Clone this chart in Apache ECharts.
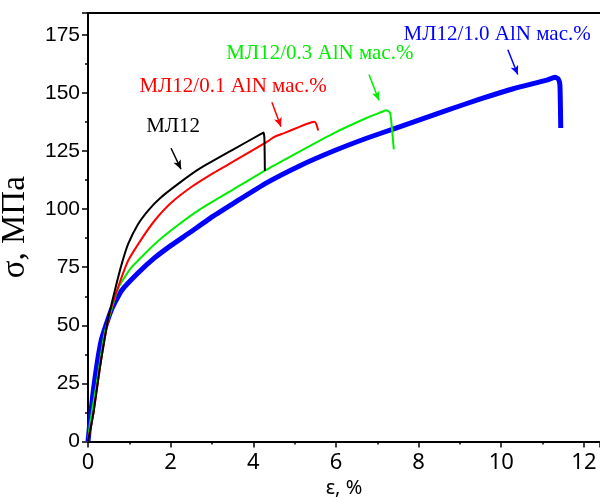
<!DOCTYPE html>
<html>
<head>
<meta charset="utf-8">
<script src="https://cdn.jsdelivr.net/npm/echarts@6/dist/echarts.min.js"></script>
<style>html,body{margin:0;padding:0;background:#fff}#c{width:600px;height:497px}</style>
</head>
<body>
<div id="c"></div>
<script>
// ---- data ----
var xTicks = [0, 2, 4, 6, 8, 10, 12];
var yTicks = [0, 25, 50, 75, 100, 125, 150, 175];

var names = ['МЛ12', 'МЛ12/0.1 AlN мас.%', 'МЛ12/0.3 AlN мас.%', 'МЛ12/1.0 AlN мас.%'];

var blackX = [0, 0.13, 0.29, 0.49, 0.65, 0.81, 0.97, 1.21, 1.46, 1.73, 2.23, 2.71, 3.52, 4.20, 4.25, 4.27, 4.28];
var blackY = [0, 12, 32, 53, 65, 76, 84.9, 93.5, 99.5, 104.5, 111.5, 117.5, 125.7, 132.5, 133, 130, 116.4];

var redX = [0, 0.13, 0.29, 0.52, 0.74, 0.97, 1.29, 1.61, 2.00, 2.50, 3.03, 3.52, 4.00, 4.32, 4.50, 4.73, 5.13, 5.41, 5.48, 5.53, 5.57];
var redY = [0, 12, 32, 55, 67, 77.8, 87, 95, 102.5, 109.5, 115.5, 120.5, 125.5, 128.8, 131, 132.6, 135.5, 137.4, 137.6, 136.4, 133.8];

var greenX = [0, 0.05, 0.21, 0.40, 0.74, 1.05, 1.61, 2.10, 2.71, 3.52, 4.32, 5.13, 5.94, 6.74, 7.15, 7.21, 7.31, 7.36, 7.40];
var greenY = [0, 8, 25, 46.4, 66.3, 74.9, 84.9, 92.1, 99.9, 108.5, 117, 124.9, 132.6, 139.2, 142.1, 142.6, 141.5, 134, 125.7];

var blueX = [0, 0.13, 0.32, 0.56, 0.81, 1.21, 1.61, 2.02, 2.43, 3.03, 3.52, 4.32, 5.13, 5.94, 6.74, 7.47, 8.68, 9.48, 10.29, 11.10, 11.30, 11.38, 11.42, 11.44];
var blueY = [0, 22, 43.5, 56.4, 64.9, 72.5, 79, 84.5, 89.5, 97, 102.5, 111.3, 118.7, 125, 130.5, 135, 142.5, 147.3, 151.8, 155.5, 156.8, 156, 153.5, 134.9];

// annotation anchors (data units): label centre, arrow start, arrow end
var annLabel = [[2.06, 135.7], [3.51, 152.6], [5.61, 166.9], [9.90, 175.1]];
var annFrom  = [[2.01, 126.2], [4.45, 146.0], [6.80, 157.9], [10.16, 168.6]];
var annTo    = [[2.25, 117.2], [4.67, 135.5], [7.04, 146.8], [10.40, 157.9]];

var colors = ['#000000', '#ff0000', '#00ee00', '#0000ff'];
var widths = [2, 2, 2, 5];

function zip(a, b) { return a.map(function (v, i) { return [v, b[i]]; }); }
var seriesData = [zip(blackX, blackY), zip(redX, redY), zip(greenX, greenY), zip(blueX, blueY)];

var chart = echarts.init(document.getElementById('c'), null, {renderer: 'canvas'});

var series = [];
[3, 2, 1, 0].forEach(function (i) {
  series.push({
    name: names[i], type: 'line', data: seriesData[i], showSymbol: false, smooth: 0.15,
    lineStyle: {color: colors[i], width: widths[i]}, itemStyle: {color: colors[i]},
    z: 10 - i,
    markLine: {
      silent: true, symbol: ['none', 'arrow'], symbolSize: [6, 9],
      lineStyle: {color: colors[i], width: 1.5, type: 'solid'}, label: {show: false},
      data: [[{coord: annFrom[i]}, {coord: annTo[i]}]]
    }
  });
});

chart.setOption({
  animation: false,
  grid: {left: 88, top: 13, right: 0, bottom: 55.5, containLabel: false, outerBoundsMode: 'none'},
  xAxis: [{
    type: 'value', min: 0, max: 12.39, interval: 2,
    name: 'ε, %', nameLocation: 'middle', nameGap: 35,
    nameTextStyle: {fontFamily: 'Noto Sans', fontSize: 20, color: '#000'},
    axisLine: {lineStyle: {color: '#000', width: 2}},
    axisTick: {show: true, inside: false, length: 6, lineStyle: {width: 1.5, color: '#000'}},
    minorTick: {show: true, splitNumber: 2, length: 3, lineStyle: {width: 1.5, color: '#000'}},
    splitLine: {show: false}, minorSplitLine: {show: false},
    axisLabel: {showMaxLabel: false, margin: 10, fontFamily: 'Noto Sans', fontSize: 22, color: '#000',
      formatter: function (v) { return xTicks.indexOf(v) >= 0 ? String(v) : ''; }}
  }, {
    type: 'value', position: 'top', min: 0, max: 12.39,
    axisLine: {show: true, onZero: false, lineStyle: {color: '#000', width: 2}},
    axisTick: {show: false}, axisLabel: {show: false}, splitLine: {show: false}
  }],
  yAxis: {
    type: 'value', min: 0, max: 184.4, interval: 25,
    name: 'σ, МПа', nameLocation: 'middle', nameGap: 56, nameRotate: 90,
    nameTextStyle: {fontFamily: 'Liberation Serif', fontSize: 33, color: '#000'},
    axisLine: {show: true, lineStyle: {color: '#000', width: 2}},
    axisTick: {show: true, inside: false, length: 6, lineStyle: {width: 1.5, color: '#000'}},
    minorTick: {show: true, splitNumber: 2, length: 3, lineStyle: {width: 1.5, color: '#000'}},
    splitLine: {show: false}, minorSplitLine: {show: false},
    axisLabel: {showMaxLabel: false, margin: 8, fontFamily: 'Liberation Sans', fontSize: 21, color: '#000',
      formatter: function (v) { return yTicks.indexOf(v) >= 0 ? String(v) : ''; }}
  },
  series: series
});

var graphics = annLabel.map(function (p, i) {
  var px = chart.convertToPixel({gridIndex: 0}, p);
  return {
    type: 'text', x: px[0], y: px[1], z: 100,
    style: {text: names[i], fill: colors[i], font: '21px "Liberation Serif"', textAlign: 'center', textVerticalAlign: 'middle'}
  };
});
chart.setOption({graphic: graphics});
</script>
</body>
</html>
